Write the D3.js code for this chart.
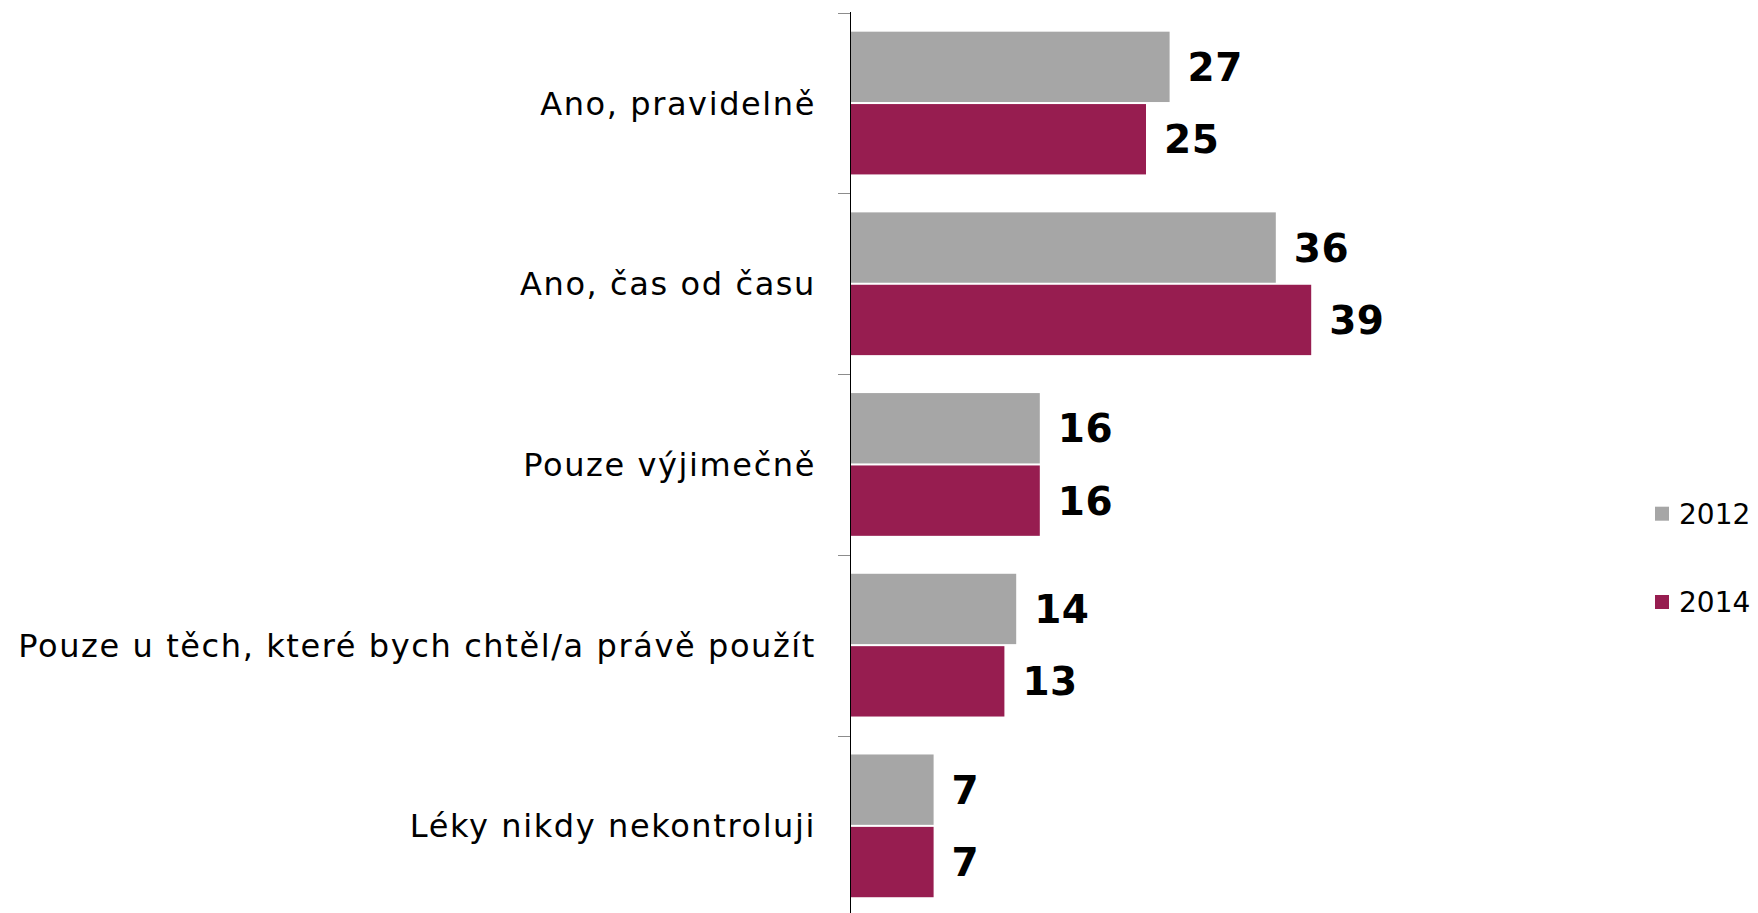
<!DOCTYPE html>
<html>
<head>
<meta charset="utf-8">
<script src="https://cdn.jsdelivr.net/npm/d3@7"></script>
<style>
  body { margin: 0; background: #fff; }
  svg { display: block; font-family: "DejaVu Sans", Verdana, sans-serif; }
</style>
</head>
<body>
<svg id="vis"></svg>
<script>
// answer categories, top to bottom
const categories = [
  "Ano, pravidelně",
  "Ano, čas od času",
  "Pouze výjimečně",
  "Pouze u těch, které bych chtěl/a právě použít",
  "Léky nikdy nekontroluji"
];
const years = ["2012", "2014"];
const values2012 = [27, 36, 16, 14, 7];
const values2014 = [25, 39, 16, 13, 7];
const yearColors = ["#a6a6a6", "#971d50"];

function drawChart() {
  const width = 1758, height = 913;
  const svg = d3.select("#vis").attr("width", width).attr("height", height);

  const rows = categories.map((c, i) => ({
    cat: c,
    bars: [
      {year: years[0], value: values2012[i]},
      {year: years[1], value: values2014[i]}
    ]
  }));

  const x0 = 851;
  const x = d3.scaleLinear().domain([0, 60]).range([x0, x0 + 60 * 11.8]);

  const y = d3.scaleBand()
    .domain(categories)
    .range([12.7, 12.7 + 180.7 * 5])
    .paddingInner(0.21)
    .paddingOuter(0.105);

  const yInner = d3.scaleBand()
    .domain(years)
    .range([0, y.bandwidth()])
    .paddingInner(0.028);

  const color = d3.scaleOrdinal().domain(years).range(yearColors);

  // group ticks sit on band boundaries
  const step = y.step();
  const boundaries = d3.range(categories.length).map(i => 12.7 + i * step);
  svg.append("g").selectAll("line")
    .data(boundaries)
    .join("line")
      .attr("x1", x0 - 13).attr("x2", x0)
      .attr("y1", d => Math.round(d) + 0.5).attr("y2", d => Math.round(d) + 0.5)
      .style("stroke", "#8c8c8c")
      .style("stroke-width", 1);

  const groups = svg.selectAll(".row")
    .data(rows)
    .join("g")
      .attr("class", "row")
      .attr("transform", d => `translate(0, ${y(d.cat)})`);

  groups.selectAll("rect")
    .data(d => d.bars)
    .join("rect")
      .attr("x", x(0))
      .attr("y", d => yInner(d.year))
      .attr("width", d => x(d.value) - x(0))
      .attr("height", yInner.bandwidth())
      .style("fill", d => color(d.year));

  groups.selectAll(".val")
    .data(d => d.bars)
    .join("text")
      .attr("class", "val")
      .attr("x", d => x(d.value) + 18)
      .attr("y", d => yInner(d.year) + yInner.bandwidth() / 2)
      .attr("dy", "0.36em")
      .style("font-weight", "bold")
      .style("font-size", "39px")
      .style("letter-spacing", "0.5px")
      .style("fill", "#000")
      .text(d => d.value);

  // category labels (verdana-ish width: a bit of letter spacing)
  svg.append("g").selectAll("text")
    .data(categories)
    .join("text")
      .attr("x", 816)
      .attr("y", d => y(d) + y.bandwidth() / 2)
      .attr("dy", "0.36em")
      .attr("text-anchor", "end")
      .style("font-size", "32px")
      .style("letter-spacing", "1.6px")
      .style("fill", "#000")
      .text(d => d);

  // axis line
  svg.append("line")
    .attr("x1", x0 - 0.5).attr("x2", x0 - 0.5)
    .attr("y1", 12).attr("y2", height)
    .style("stroke", "#000")
    .style("stroke-width", 1);

  // legend
  const legend = svg.append("g").selectAll("g")
    .data(years)
    .join("g")
      .attr("transform", (d, i) => `translate(1655, ${513.7 + i * 88.3})`);
  legend.append("rect")
    .attr("x", 0).attr("y", -7)
    .attr("width", 14).attr("height", 14)
    .style("fill", d => color(d));
  legend.append("text")
    .attr("x", 24)
    .attr("dy", "0.36em")
    .style("font-size", "28px")
    .text(d => d);
}
drawChart();
</script>
</body>
</html>
